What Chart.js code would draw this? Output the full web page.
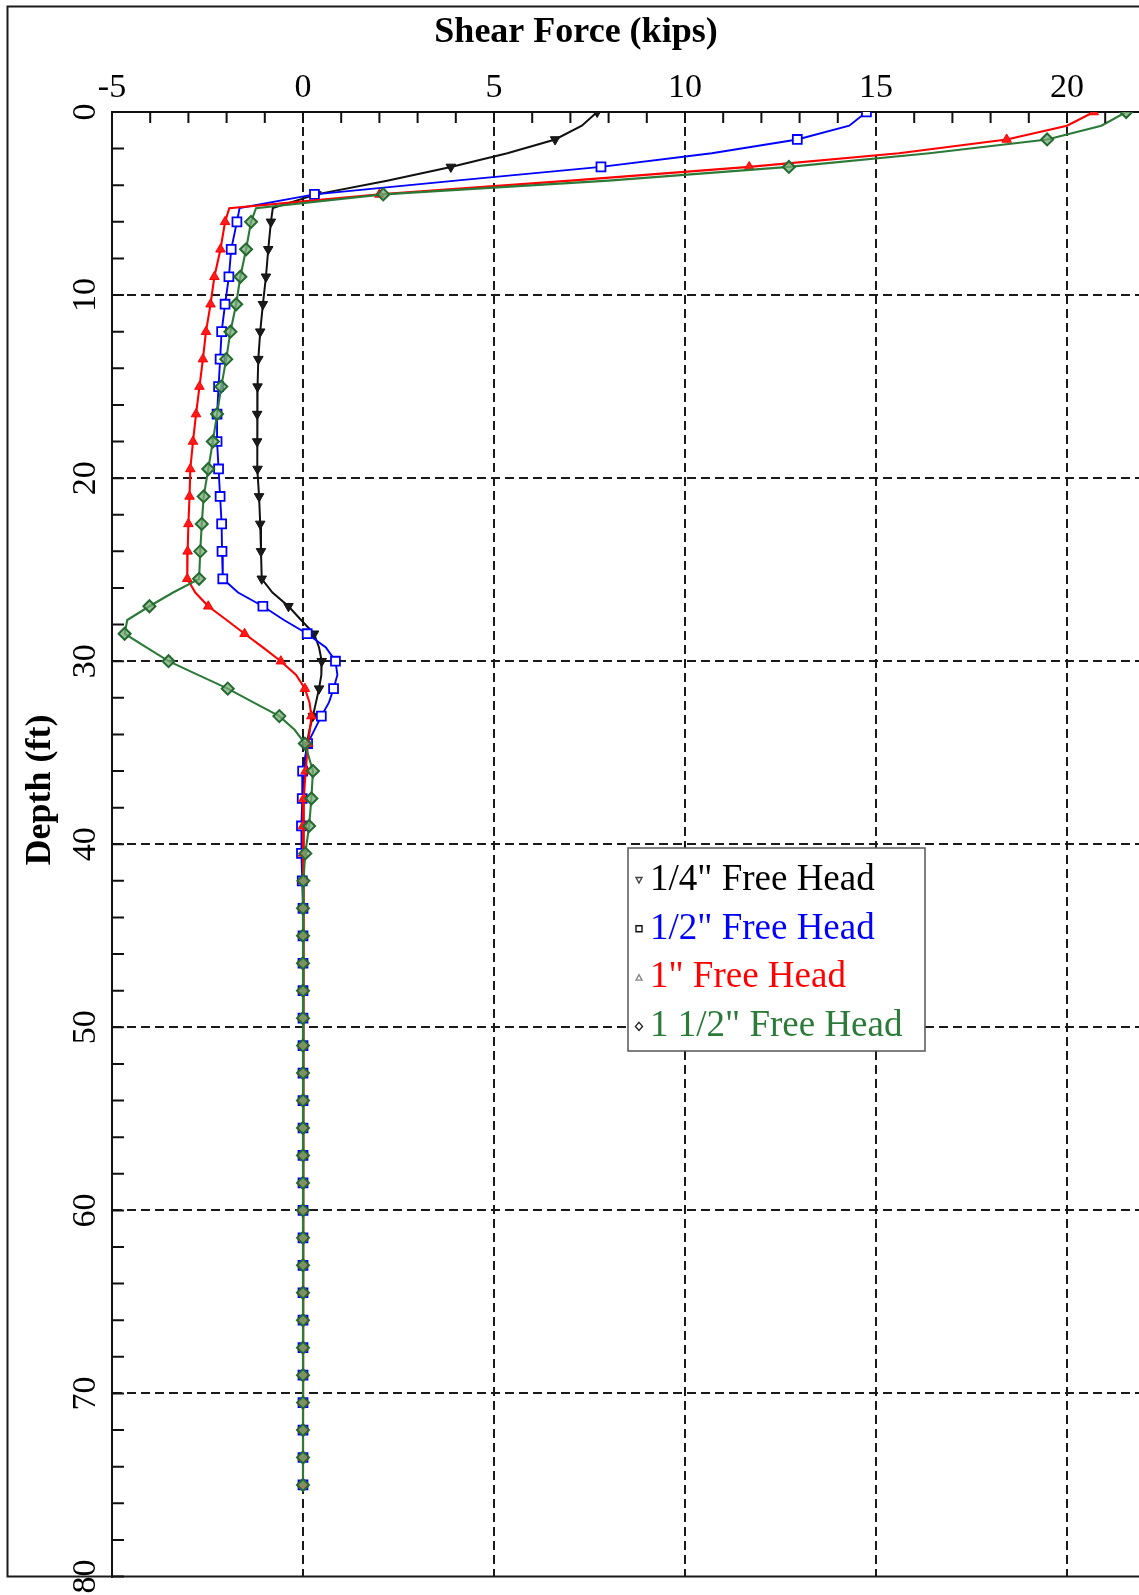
<!DOCTYPE html>
<html>
<head>
<meta charset="utf-8">
<title>Shear Force vs Depth</title>
<script src="https://cdn.jsdelivr.net/npm/chart.js@4.4.1/dist/chart.umd.min.js"></script>
<style>
  html, body { margin: 0; padding: 0; background: #fff; overflow: hidden; }
  #wrap { position: relative; width: 1139px; height: 1595px; overflow: hidden; }
  canvas { display: block; }
</style>
</head>
<body>
<div id="wrap"><canvas id="chart" width="1280" height="1595"></canvas></div>
<script>
// Depth below pile head (ft)
const depths = [
  0, 0.75, 1.5, 2.25, 3, 3.75, 4.5, 5.25, 6,
  7.5, 9, 10.5, 12, 13.5, 15, 16.5, 18, 19.5, 21, 22.5, 24, 25.5,
  26.25, 27, 27.75, 28.5, 29.25, 30, 30.75, 31.5, 32.25, 33, 33.75, 34.5,
  36, 37.5, 39, 40.5, 42, 43.5, 45, 46.5, 48, 49.5, 51, 52.5, 54, 55.5, 57, 58.5,
  60, 61.5, 63, 64.5, 66, 67.5, 69, 70.5, 72, 73.5, 75
];

// Shear force (kips) for each pile-head deflection
const shearQuarter = [
  7.7, 7.3, 6.6, 5.35, 3.87, 2.2, 0.35, -0.79, -0.84,
  -0.91, -0.97, -1.05, -1.12, -1.17, -1.19, -1.2, -1.2, -1.19, -1.15, -1.12, -1.1, -1.08,
  -0.8, -0.38, -0.05, 0.29, 0.42, 0.49, 0.48, 0.42, 0.34, 0.26, 0.17, 0.1,
  0.04, 0.01, 0, 0, 0, 0, 0, 0, 0, 0, 0, 0, 0, 0, 0, 0,
  0, 0, 0, 0, 0, 0, 0, 0, 0, 0, 0
];
const shearHalf = [
  14.75, 14.3, 12.94, 10.7, 7.8, 4.0, 0.3, -1.66, -1.73,
  -1.88, -1.94, -2.04, -2.13, -2.17, -2.21, -2.25, -2.25, -2.21, -2.17, -2.13, -2.12, -2.1,
  -1.7, -1.05, -0.5, 0.11, 0.6, 0.85, 0.9, 0.8, 0.68, 0.48, 0.3, 0.12,
  -0.01, -0.02, -0.04, -0.04, -0.02, 0, 0, 0, 0, 0, 0, 0, 0, 0, 0, 0,
  0, 0, 0, 0, 0, 0, 0, 0, 0, 0, 0
];
const shearOne = [
  20.7, 20.0, 18.42, 15.6, 11.68, 7.0, 2.0, -1.93, -2.04,
  -2.16, -2.32, -2.42, -2.54, -2.62, -2.71, -2.8, -2.88, -2.95, -2.97, -3.0, -3.02, -3.03,
  -2.82, -2.48, -2.0, -1.53, -1.05, -0.58, -0.18, 0.05, 0.17, 0.22, 0.18, 0.13,
  0.07, 0.02, 0, 0, 0, 0, 0, 0, 0, 0, 0, 0, 0, 0, 0, 0,
  0, 0, 0, 0, 0, 0, 0, 0, 0, 0, 0
];
const shearOneHalf = [
  21.55, 20.9, 19.48, 16.4, 12.72, 8.0, 2.1, -1.23, -1.36,
  -1.49, -1.64, -1.75, -1.9, -2.01, -2.14, -2.25, -2.36, -2.48, -2.6, -2.65, -2.69, -2.72,
  -3.4, -4.02, -4.6, -4.67, -4.1, -3.52, -2.75, -1.97, -1.3, -0.62, -0.22, 0.05,
  0.26, 0.22, 0.16, 0.06, 0.01, 0, 0, 0, 0, 0, 0, 0, 0, 0, 0, 0,
  0, 0, 0, 0, 0, 0, 0, 0, 0, 0, 0
];

const seriesLabels = ['1/4" Free Head', '1/2" Free Head', '1" Free Head', '1 1/2" Free Head'];
const forceTicks = [-5, 0, 5, 10, 15, 20, 25];
const depthTicks = [0, 10, 20, 30, 40, 50, 60, 70, 80];

const SERIF = '"Liberation Serif", "Times New Roman", Times, serif';
const GREEN = '#2b7a38';

function toPoints(values) {
  return values.map((v, i) => ({ x: v, y: depths[i] }));
}
// markers only at every 1.5 ft station
function markerSize(r) {
  return ctx => (depths[ctx.dataIndex] % 1.5 === 0 ? r : 0);
}

const datasets = [
  {
    label: seriesLabels[0], data: toPoints(shearQuarter),
    borderColor: '#111', borderWidth: 2,
    pointStyle: 'triangle', rotation: 180, pointRadius: markerSize(5.5),
    pointBackgroundColor: '#1a1a1a', pointBorderColor: '#111', pointBorderWidth: 1,
    legendMark: '#444', order: 3
  },
  {
    label: seriesLabels[1], data: toPoints(shearHalf),
    borderColor: '#0000ff', borderWidth: 1.9,
    pointStyle: 'rect', pointRadius: markerSize(6.3),
    pointBackgroundColor: '#ffffff', pointBorderColor: '#0000ff', pointBorderWidth: 1.8,
    legendMark: '#111', order: 2
  },
  {
    label: seriesLabels[2], data: toPoints(shearOne),
    borderColor: '#ff0000', borderWidth: 2.1,
    pointStyle: 'triangle', pointRadius: markerSize(5.5),
    pointBackgroundColor: '#ff1a1a', pointBorderColor: '#ff0000', pointBorderWidth: 1,
    legendMark: '#888', order: 1
  },
  {
    label: seriesLabels[3], data: toPoints(shearOneHalf),
    borderColor: GREEN, borderWidth: 2.1,
    pointStyle: 'rectRot', pointRadius: markerSize(6),
    pointBackgroundColor: 'rgba(120,170,120,0.75)', pointBorderColor: '#226a2e', pointBorderWidth: 2,
    legendMark: '#222', order: 0
  }
].map(d => Object.assign({ showLine: true, tension: 0, clip: 0, pointHoverRadius: 0 }, d));

// Frame, inward tick marks, rotated depth labels, titles and boxed legend
const decorations = {
  id: 'decorations',
  afterDatasetsDraw(chart) {
    const { ctx, chartArea: a } = chart;
    const xs = chart.scales.x, ys = chart.scales.y;
    ctx.save();
    // outer figure frame; its lower edge is the bottom of the plot
    ctx.strokeStyle = '#1a1a1a';
    ctx.lineWidth = 2;
    ctx.strokeRect(7.5, 6.5, chart.width + 40, a.bottom - 6.5);

    // tick marks pointing into the plot
    ctx.beginPath();
    ctx.lineWidth = 2;
    ctx.strokeStyle = '#111';
    xs.ticks.forEach(t => {
      const px = xs.getPixelForValue(t.value);
      ctx.moveTo(px, a.top);
      ctx.lineTo(px, a.top + 11);
    });
    ys.ticks.forEach(t => {
      const py = ys.getPixelForValue(t.value);
      ctx.moveTo(a.left, py);
      ctx.lineTo(a.left + 12, py);
    });
    ctx.stroke();

    // depth labels, rotated
    ctx.fillStyle = '#000';
    ctx.font = '34px ' + SERIF;
    ctx.textAlign = 'center';
    ctx.textBaseline = 'middle';
    ys.ticks.forEach(t => {
      if (!depthTicks.includes(t.value)) return;
      ctx.save();
      ctx.translate(a.left - 26, ys.getPixelForValue(t.value));
      ctx.rotate(-Math.PI / 2);
      ctx.fillText(String(t.value), 0, 0);
      ctx.restore();
    });

    // axis titles
    ctx.font = 'bold 36px ' + SERIF;
    ctx.textBaseline = 'alphabetic';
    ctx.fillText('Shear Force (kips)', 576, 42);
    ctx.save();
    ctx.translate(50, 790);
    ctx.rotate(-Math.PI / 2);
    ctx.fillText('Depth (ft)', 0, 0);
    ctx.restore();
    ctx.restore();
  },
  afterDraw(chart) {
    const { ctx } = chart;
    const box = { x: 628, y: 848, w: 297, h: 203 };
    ctx.save();
    ctx.fillStyle = '#fff';
    ctx.fillRect(box.x, box.y, box.w, box.h);
    ctx.strokeStyle = '#555';
    ctx.lineWidth = 1.5;
    ctx.strokeRect(box.x, box.y, box.w, box.h);
    ctx.font = '37px ' + SERIF;
    ctx.textAlign = 'left';
    ctx.textBaseline = 'middle';
    chart.data.datasets.forEach((ds, i) => {
      const cy = box.y + 32 + i * 48.8;
      const mx = box.x + 11;
      ctx.strokeStyle = ds.legendMark;
      ctx.lineWidth = 1.4;
      ctx.beginPath();
      if (ds.pointStyle === 'triangle' && ds.rotation === 180) {
        ctx.moveTo(mx - 3, cy - 2.5); ctx.lineTo(mx + 3, cy - 2.5); ctx.lineTo(mx, cy + 3); ctx.closePath();
      } else if (ds.pointStyle === 'triangle') {
        ctx.moveTo(mx - 3, cy + 2.5); ctx.lineTo(mx + 3, cy + 2.5); ctx.lineTo(mx, cy - 3); ctx.closePath();
      } else if (ds.pointStyle === 'rect') {
        ctx.rect(mx - 3, cy - 3, 6, 6);
      } else {
        ctx.moveTo(mx, cy - 4); ctx.lineTo(mx + 3.5, cy); ctx.lineTo(mx, cy + 4); ctx.lineTo(mx - 3.5, cy); ctx.closePath();
      }
      ctx.stroke();
      ctx.fillStyle = ds.borderColor === '#111' ? '#000' : ds.borderColor;
      ctx.fillText(ds.label, box.x + 22, cy);
    });
    ctx.restore();
  }
};

new Chart(document.getElementById('chart'), {
  type: 'scatter',
  data: { datasets },
  options: {
    responsive: false,
    animation: false,
    devicePixelRatio: 1,
    events: [],
    layout: { padding: { left: 8, top: 0, right: 22, bottom: 18.5 } },
    plugins: { legend: { display: false }, tooltip: { enabled: false } },
    scales: {
      x: {
        type: 'linear', position: 'top', min: -5, max: 25,
        afterFit(scale) { scale.height = 112; },
        ticks: {
          stepSize: 1, autoSkip: false, maxRotation: 0, minRotation: 0, padding: 4,
          color: '#000', font: { family: SERIF, size: 34 },
          callback: v => (forceTicks.includes(v) ? String(v) : '')
        },
        grid: {
          drawTicks: false, lineWidth: 2,
          color: c => (c.tick && c.tick.value !== -5 && forceTicks.includes(c.tick.value)) ? '#1a1a1a' : 'rgba(0,0,0,0)'
        },
        border: { display: true, color: '#111', width: 2, dash: [9, 5] }
      },
      y: {
        type: 'linear', reverse: true, min: 0, max: 80,
        afterFit(scale) { scale.width = 104; },
        ticks: { stepSize: 2, display: false },
        grid: {
          drawTicks: false, lineWidth: 2,
          color: c => (c.tick && c.tick.value !== 0 && c.tick.value !== 80 && depthTicks.includes(c.tick.value)) ? '#1a1a1a' : 'rgba(0,0,0,0)'
        },
        border: { display: true, color: '#111', width: 2, dash: [9, 5] }
      }
    }
  },
  plugins: [decorations]
});
</script>
</body>
</html>
